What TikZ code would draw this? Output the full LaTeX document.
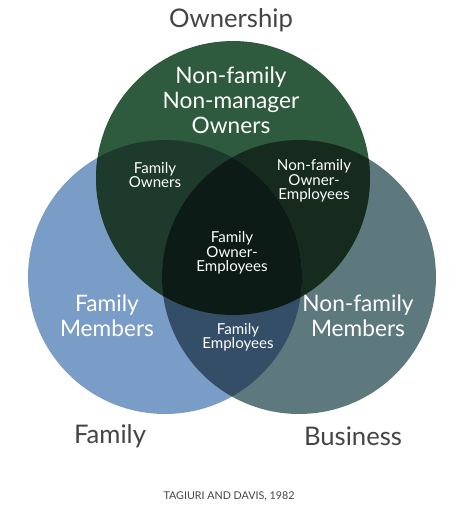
\documentclass[tikz,border=0pt]{standalone}
\usepackage{fontspec}
\setmainfont{Lato}
\usepackage{tikz}

\definecolor{ownc}{RGB}{46,90,61}
\definecolor{famc}{RGB}{122,157,199}
\definecolor{busc}{RGB}{94,121,126}
\definecolor{ofc}{RGB}{30,58,45}
\definecolor{obc}{RGB}{22,42,30}
\definecolor{fbc}{RGB}{52,78,104}
\definecolor{allc}{RGB}{12,27,22}
\definecolor{titlec}{RGB}{68,68,68}

\begin{document}
\begin{tikzpicture}[
  x=0.02cm,y=-0.02cm,
  title/.style={text=titlec,font=\fontsize{14.6pt}{16pt}\selectfont},
  biglab/.style={text=white,align=center,font=\fontsize{12.9pt}{14.2pt}\selectfont},
  smalllab/.style={text=white,align=center,font=\fontsize{8.6pt}{8.2pt}\selectfont}
]
  \useasboundingbox (0,0) rectangle (457,514);

  % Circle centres
  \coordinate (own) at (233,178);
  \coordinate (fam) at (165,277);
  \coordinate (bus) at (299,277);
  \def\rad{2.74cm}

  % Circles
  \fill[famc] (fam) circle (\rad);
  \fill[busc] (bus) circle (\rad);
  \fill[ownc] (own) circle (\rad);

  % Overlaps
  \begin{scope}
    \clip (own) circle (\rad);
    \fill[ofc] (fam) circle (\rad);
  \end{scope}
  \begin{scope}
    \clip (own) circle (\rad);
    \fill[obc] (bus) circle (\rad);
  \end{scope}
  \begin{scope}
    \clip (fam) circle (\rad);
    \fill[fbc] (bus) circle (\rad);
  \end{scope}
  \begin{scope}
    \clip (own) circle (\rad);
    \clip (fam) circle (\rad);
    \fill[allc] (bus) circle (\rad);
  \end{scope}

  % Region labels
  \node[biglab] (nfnmo) at (231,100) {Non-family\\Non-manager\\Owners};
  \node[smalllab] (fo) at (155,175) {Family\\Owners};
  \node[smalllab] (nfoe) at (314,181) {Non-family\\Owner-\\Employees};
  \node[smalllab] (foe) at (232,253) {Family\\Owner-\\Employees};
  \node[biglab] (fm) at (107,316) {Family\\Members};
  \node[biglab] (nfm) at (358,316) {Non-family\\Members};
  \node[smalllab] (fe) at (238,337) {Family\\Employees};

  % Titles
  \node[title] (owntitle) at (231,20) {Ownership};
  \node[title] (famtitle) at (110,436) {Family};
  \node[title] (bustitle) at (353,436) {Business};
  \node[text=titlec,font=\fontsize{6.1pt}{7pt}\selectfont] (source) at (229,496) {TAGIURI AND DAVIS, 1982};
\end{tikzpicture}
\end{document}
